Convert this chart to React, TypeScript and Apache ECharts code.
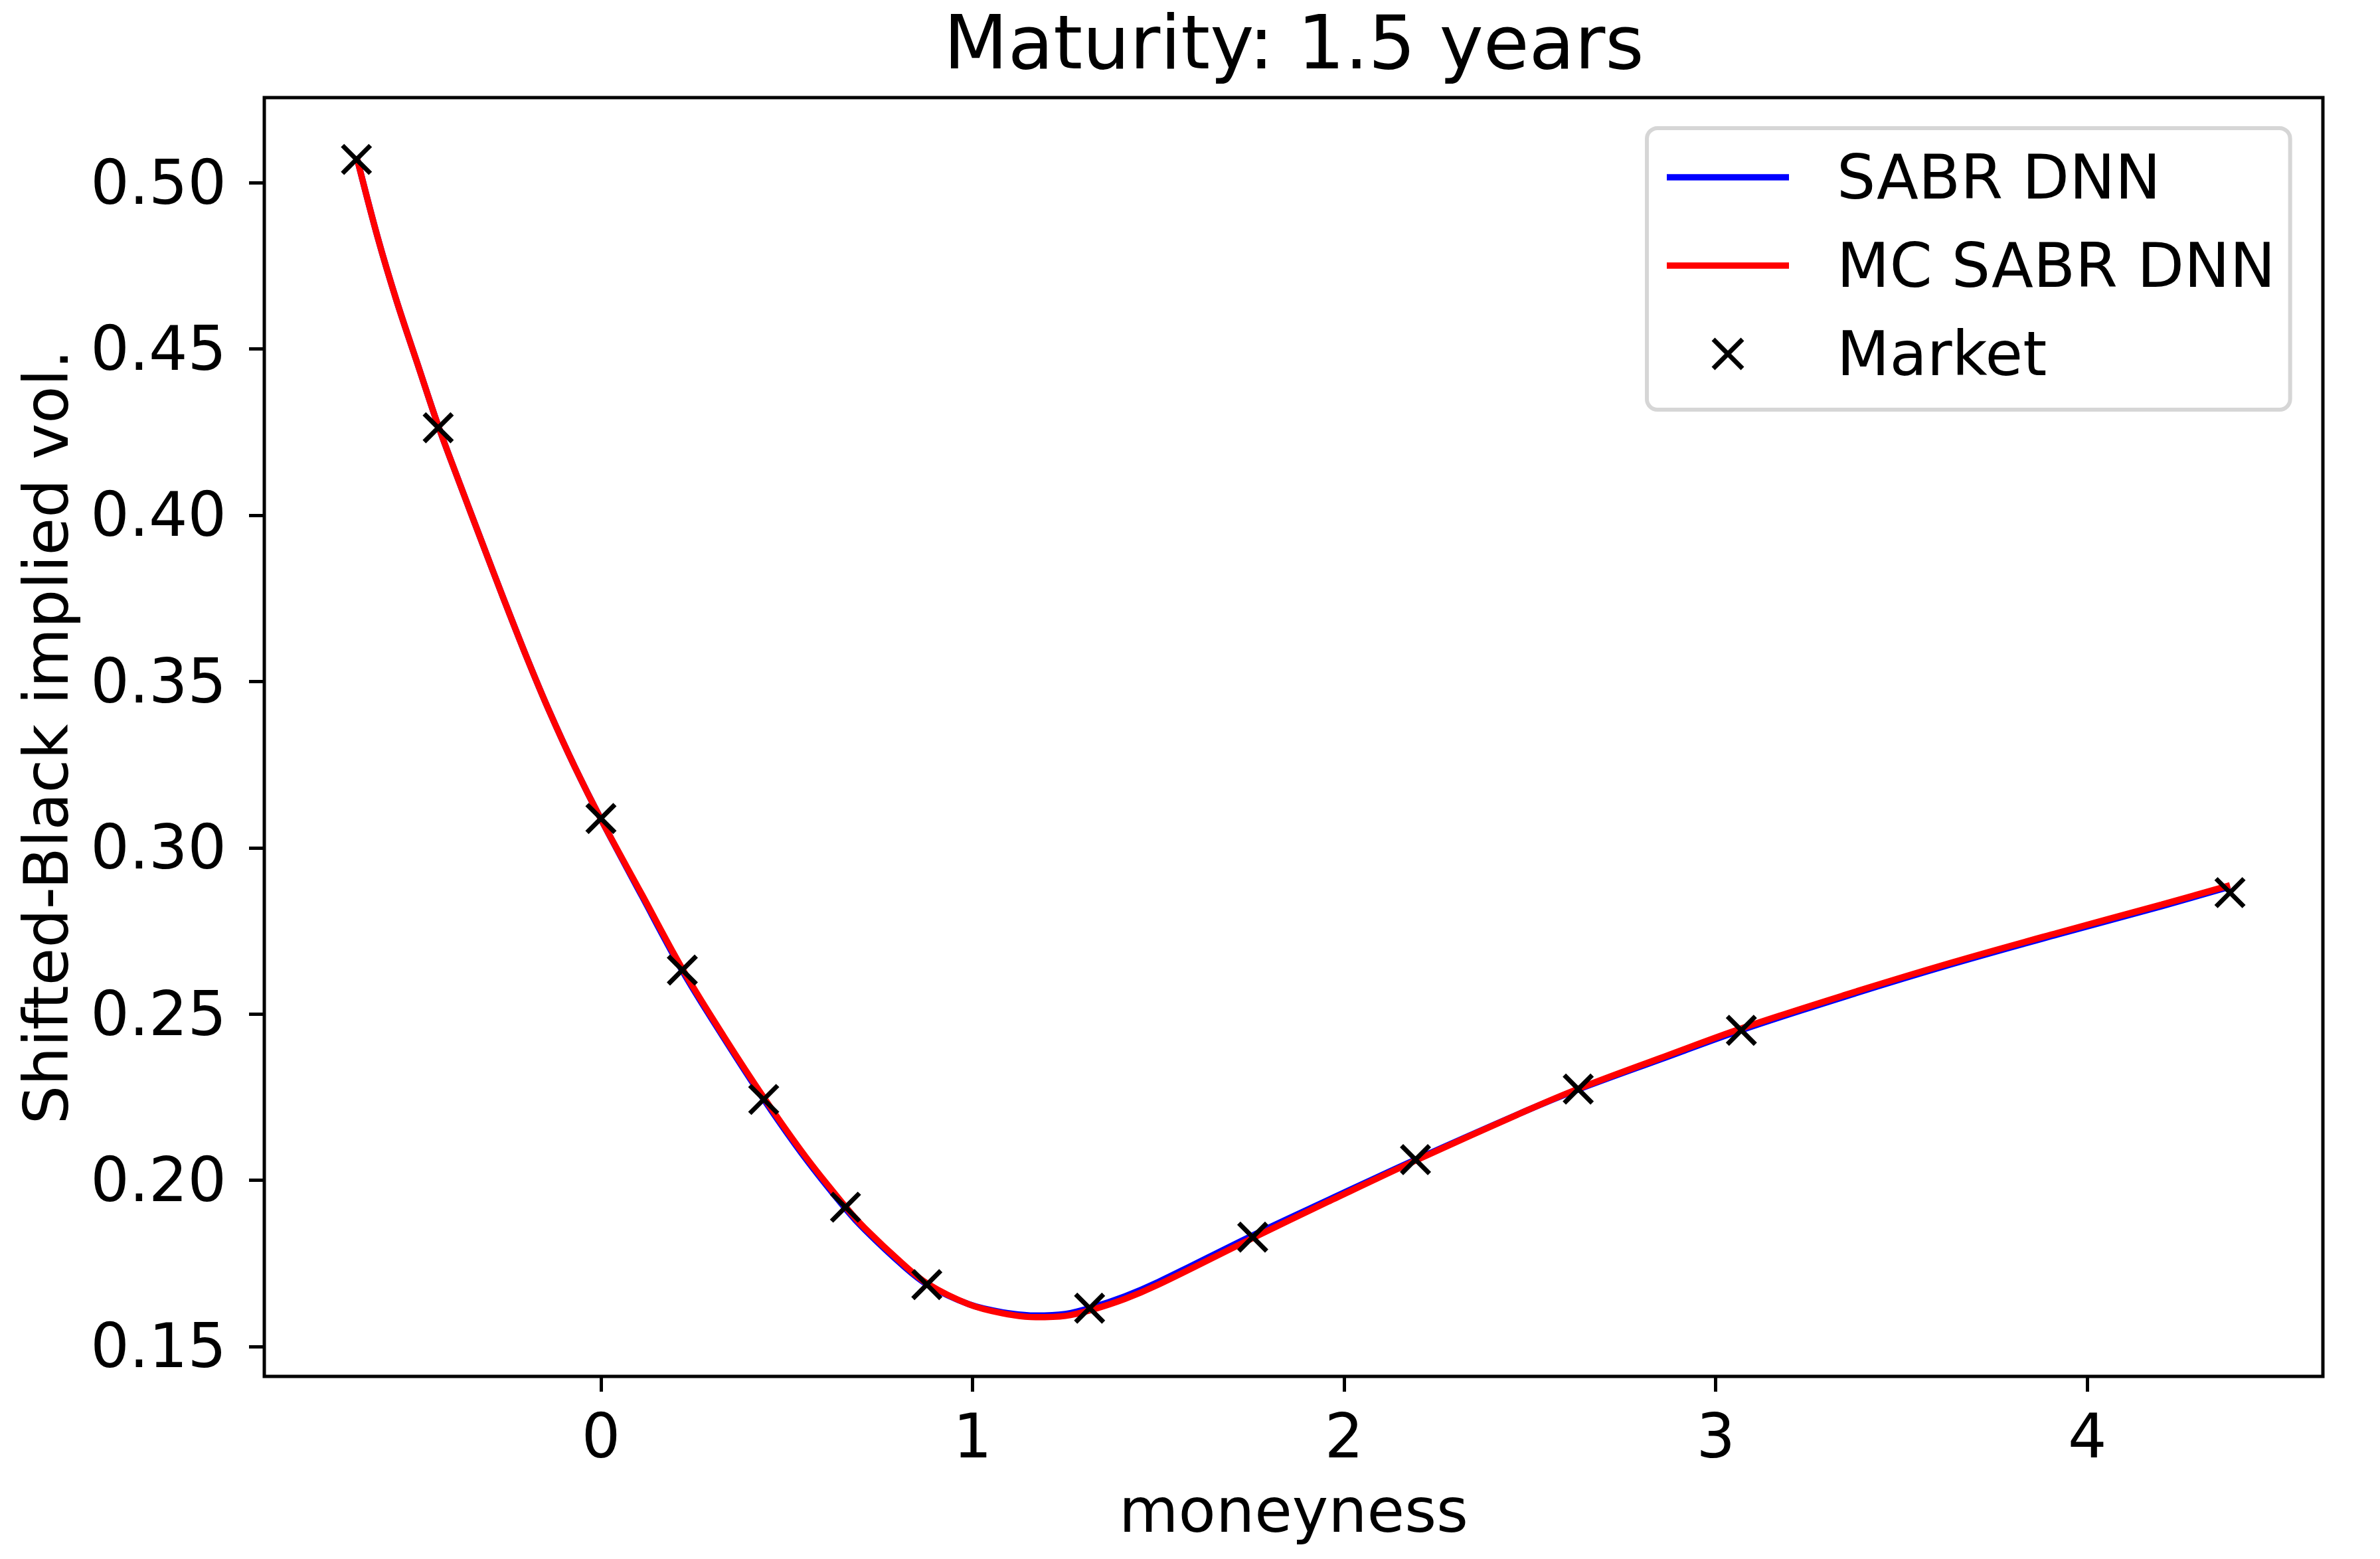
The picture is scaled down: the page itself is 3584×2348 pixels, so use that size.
import React, { useEffect, useRef } from "react";
import * as echarts from "echarts";

const FONT = "DejaVu Sans";
const TITLE = "Maturity: 1.5 years";
const X_LABEL = "moneyness";
const Y_LABEL = "Shifted-Black implied vol.";
const X_TICKS = [0, 1, 2, 3, 4];
const Y_TICKS = [0.15, 0.2, 0.25, 0.3, 0.35, 0.4, 0.45, 0.5];
const X_MIN = -0.906;
const X_MAX = 4.634;
const Y_MIN = 0.141;
const Y_MAX = 0.5256;

const SERIES_NAMES = ["SABR DNN", "MC SABR DNN", "Market"];

const marketMoneyness = [-0.658, -0.438, 0, 0.219, 0.438, 0.658, 0.877, 1.315, 1.754, 2.192, 2.63, 3.069, 4.384];
const marketVol = [0.507, 0.4263, 0.3088, 0.2632, 0.2243, 0.1919, 0.1686, 0.1615, 0.1829, 0.2062, 0.2274, 0.2451, 0.2865];

const curveMoneyness = [
  -0.658, -0.6, -0.55, -0.49, -0.437, -0.38, -0.32, -0.26, -0.2, -0.14, -0.07, 0,
  0.11, 0.22, 0.33, 0.44, 0.55, 0.66, 0.71, 0.81, 0.88, 0.99, 1.08, 1.17, 1.25, 1.32,
  1.41, 1.5, 1.75, 1.96, 2.19, 2.49, 2.63, 2.85, 3.07, 3.35, 3.63, 3.92, 4.2, 4.384,
];
const sabrDnnVol = [
  0.508, 0.4832, 0.4645, 0.4443, 0.4266, 0.4095, 0.3918, 0.3743, 0.3573, 0.3413, 0.3242, 0.3086,
  0.2855, 0.2628, 0.2429, 0.224, 0.2066, 0.1912, 0.1851, 0.1746, 0.1685, 0.1627, 0.1603, 0.1593, 0.1598, 0.1617,
  0.1651, 0.1694, 0.1832, 0.1942, 0.2061, 0.2209, 0.2273, 0.2363, 0.2452, 0.2553, 0.2648, 0.2739, 0.2824, 0.2883,
];
const mcSabrDnnVol = [
  0.508, 0.4832, 0.4645, 0.4443, 0.4266, 0.4095, 0.3918, 0.3743, 0.3573, 0.3413, 0.3242, 0.3086,
  0.286, 0.2634, 0.2434, 0.2246, 0.2072, 0.1918, 0.1856, 0.1751, 0.1688, 0.1627, 0.16, 0.1588, 0.1592, 0.161,
  0.1643, 0.1686, 0.1824, 0.1937, 0.2058, 0.2209, 0.2275, 0.2367, 0.2457, 0.2558, 0.2653, 0.2744, 0.2829, 0.2887,
];

const zip = (xs: number[], ys: number[]) => xs.map((x, i) => [x, ys[i]]);

const X_MARK = "path://M0 0L10 10M10 0L0 10";
const LINE_ICON = "path://M0 0H184V9.5H0Z";

export default function App() {
  const ref = useRef<HTMLDivElement>(null);
  useEffect(() => {
    if (!ref.current) return;
    const chart = echarts.init(ref.current, undefined, { renderer: "svg" });
    const axisText = { fontSize: 92, color: "#000", fontFamily: FONT };
    chart.setOption({
      animation: false,
      backgroundColor: "#ffffff",
      textStyle: { fontFamily: FONT },
      title: {
        text: TITLE,
        left: 1421,
        top: 8,
        padding: 0,
        textStyle: { fontSize: 112, fontWeight: "normal", color: "#000", fontFamily: FONT },
      },
      grid: {
        left: 398,
        top: 147,
        right: 86,
        bottom: 275,
        show: true,
        borderColor: "#000",
        borderWidth: 5,
        backgroundColor: "transparent",
        containLabel: false,
        outerBoundsMode: "none",
      },
      legend: {
        orient: "vertical",
        left: 2480,
        top: 193,
        itemWidth: 184,
        itemHeight: 44,
        itemGap: 41,
        padding: [28, 22, 38, 30],
        backgroundColor: "#ffffff",
        borderColor: "#d6d6d6",
        borderWidth: 6,
        borderRadius: 16,
        selectedMode: false,
        textStyle: { fontSize: 92, color: "#000", fontFamily: FONT, padding: [0, 0, 0, 67] },
        data: [
          { name: SERIES_NAMES[0], icon: LINE_ICON, itemStyle: { color: "#0000ff", borderWidth: 0, opacity: 1 } },
          { name: SERIES_NAMES[1], icon: LINE_ICON, itemStyle: { color: "#ff0000", borderWidth: 0, opacity: 1 } },
          { name: SERIES_NAMES[2], icon: X_MARK, itemStyle: { color: "#000", borderColor: "#000", borderWidth: 7, opacity: 1 } },
        ],
      },
      xAxis: {
        type: "value",
        min: X_MIN,
        max: X_MAX,
        name: X_LABEL,
        nameLocation: "middle",
        nameGap: 156,
        nameTextStyle: axisText,
        axisLine: { show: false, onZero: false },
        axisTick: { show: true, inside: false, length: 23, lineStyle: { color: "#000", width: 5 }, customValues: X_TICKS },
        axisLabel: { ...axisText, margin: 44, customValues: X_TICKS, formatter: (v: number) => String(v) },
        splitLine: { show: false },
      },
      yAxis: {
        type: "value",
        min: Y_MIN,
        max: Y_MAX,
        name: Y_LABEL,
        nameLocation: "middle",
        nameRotate: 90,
        nameGap: 282,
        nameTextStyle: axisText,
        axisLine: { show: false, onZero: false },
        axisTick: { show: true, inside: false, length: 23, lineStyle: { color: "#000", width: 5 }, customValues: Y_TICKS },
        axisLabel: { ...axisText, margin: 57, customValues: Y_TICKS, formatter: (v: number) => v.toFixed(2) },
        splitLine: { show: false },
      },
      series: [
        {
          name: SERIES_NAMES[0],
          type: "line",
          data: zip(curveMoneyness, sabrDnnVol),
          symbol: "none",
          showSymbol: false,
          smooth: 0.35,
          lineStyle: { color: "#0000ff", width: 9.5 },
          itemStyle: { color: "#0000ff" },
          emphasis: { disabled: true },
          silent: true,
          z: 2,
        },
        {
          name: SERIES_NAMES[1],
          type: "line",
          data: zip(curveMoneyness, mcSabrDnnVol),
          symbol: "none",
          showSymbol: false,
          smooth: 0.35,
          lineStyle: { color: "#ff0000", width: 9.5 },
          itemStyle: { color: "#ff0000" },
          emphasis: { disabled: true },
          silent: true,
          z: 3,
        },
        {
          name: SERIES_NAMES[2],
          type: "scatter",
          data: zip(marketMoneyness, marketVol),
          symbol: X_MARK,
          symbolSize: 42,
          itemStyle: { color: "#000", borderColor: "#000", borderWidth: 7, opacity: 1 },
          emphasis: { disabled: true },
          silent: true,
          z: 4,
        },
      ],
    });
    return () => chart.dispose();
  }, []);
  return (
    <div
      ref={ref}
      style={{ position: "fixed", left: 0, top: 0, width: "3584px", height: "2348px", background: "#fff" }}
    />
  );
}
